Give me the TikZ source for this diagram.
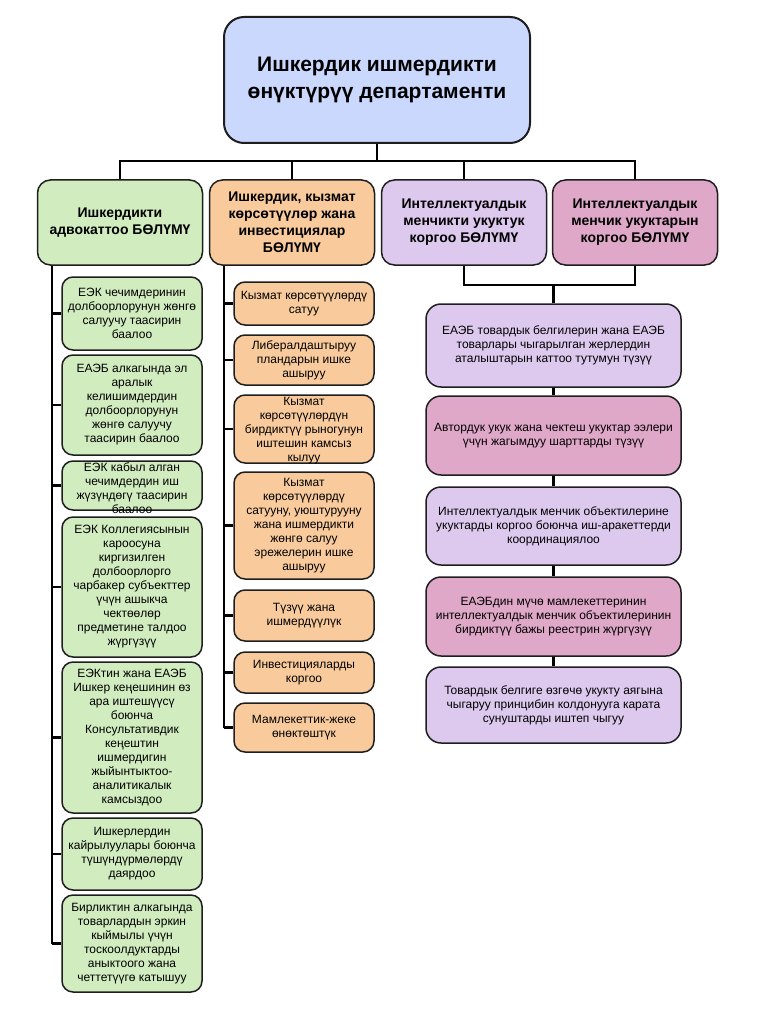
\documentclass[tikz,border=0pt]{standalone}
\usepackage{fontspec}
\setmainfont{Liberation Sans}
\definecolor{boxline}{HTML}{1E1E1E}
\definecolor{titlefill}{HTML}{C9D8FC}
\definecolor{greenfill}{HTML}{D1ECBF}
\definecolor{orangefill}{HTML}{F9CB9C}
\definecolor{lilacfill}{HTML}{DDC9EE}
\definecolor{pinkfill}{HTML}{E0A8C8}
\newcommand{\cutcell}[2]{\parbox[c][#1][t]{136pt}{\centering #2}}
\begin{document}
\begin{tikzpicture}[x=1pt,y=-1pt,
    wire/.style={draw=black, line width=2.2pt},
    cell/.style={draw=boxline, line width=1.5pt, rounded corners=11pt, align=center, inner sep=2pt,
        font=\fontsize{12}{14}\selectfont},
    topbox/.style={cell, fill=titlefill, line width=2pt, rounded corners=20pt,
        minimum width=306pt, minimum height=126pt, font=\bfseries\fontsize{21}{27}\selectfont},
    headbox/.style={cell, minimum width=165pt, minimum height=85pt, rounded corners=13pt,
        font=\bfseries\fontsize{14}{17}\selectfont},
    advbox/.style={cell, fill=greenfill, minimum width=140pt},
    servbox/.style={cell, fill=orangefill, minimum width=140pt},
    ipbox/.style={cell, minimum width=255pt, rounded corners=15pt}]
    \useasboundingbox (0,0) rectangle (758,1027);

    % Department
    \node[topbox] (dept) at (377,80) {Ишкердик ишмердикти\\өнүктүрүү департаменти};

    % Divisions
    \node[headbox, fill=greenfill] (adv) at (120,222.5) {Ишкердикти\\адвокаттоо БӨЛҮМҮ};
    \node[headbox, fill=orangefill] (serv) at (292,222.5) {Ишкердик, кызмат\\көрсөтүүлөр жана\\инвестициялар\\БӨЛҮМҮ};
    \node[headbox, fill=lilacfill] (iplaw) at (464,222.5) {Интеллектуалдык\\менчикти укуктук\\коргоо БӨЛҮМҮ};
    \node[headbox, fill=pinkfill] (ipprot) at (635,222.5) {Интеллектуалдык\\менчик укуктарын\\коргоо БӨЛҮМҮ};

    % Bus under the department
    \coordinate (bus) at (377,161);
    \draw[wire] (dept.south) -- (bus);
    \draw[wire] (adv.north) |- (bus) -| (ipprot.north);
    \draw[wire] (serv.north) -- (serv.north |- bus);
    \draw[wire] (iplaw.north) -- (iplaw.north |- bus);

    % Advocacy tasks
    \node[advbox, minimum height=73pt] (adv1) at (132,313.5) {ЕЭК чечимдеринин\\долбоорлорунун жөнгө\\салуучу таасирин\\баалоо};
    \node[advbox, minimum height=100pt] (adv2) at (132,405) {ЕАЭБ алкагында эл\\аралык\\келишимдердин\\долбоорлорунун\\жөнгө салуучу\\таасирин баалоо};
    \node[advbox] (adv3) at (132,485.5) {\cutcell{45pt}{ЕЭК кабыл алган\\чечимдердин иш\\жүзүндөгү таасирин\\баалоо}};
    \node[advbox, minimum height=140pt] (adv4) at (132,587) {ЕЭК Коллегиясынын\\кароосуна\\киргизилген\\долбоорлорго\\чарбакер субъекттер\\үчүн ашыкча\\чектөөлөр\\предметине талдоо\\жүргүзүү};
    \node[advbox, minimum height=151pt] (adv5) at (132,737.5) {ЕЭКтин жана ЕАЭБ\\Ишкер кеңешинин өз\\ара иштешүүсү\\боюнча\\Консультативдик\\кеңештин\\ишмердигин\\жыйынтыктоо-\\аналитикалык\\камсыздоо};
    \node[advbox, minimum height=72pt] (adv6) at (132,854) {Ишкерлердин\\кайрылуулары боюнча\\түшүндүрмөлөрдү\\даярдоо};
    \node[advbox, minimum height=97pt] (adv7) at (132,943.5) {Бирликтин алкагында\\товарлардын эркин\\кыймылы үчүн\\тоскоолдуктарды\\аныктоого жана\\четтетүүгө катышуу};

    % Advocacy spine
    \coordinate (advspine) at (52,0);
    \draw[wire] (adv.south -| advspine) -- (adv7.west -| advspine);
    \draw[wire] (adv1.west) -- (adv1.west -| advspine);
    \draw[wire] (adv2.west) -- (adv2.west -| advspine);
    \draw[wire] (adv3.west) -- (adv3.west -| advspine);
    \draw[wire] (adv4.west) -- (adv4.west -| advspine);
    \draw[wire] (adv5.west) -- (adv5.west -| advspine);
    \draw[wire] (adv6.west) -- (adv6.west -| advspine);
    \draw[wire] (adv7.west) -- (adv7.west -| advspine);

    % Services and investment tasks
    \node[servbox, minimum height=43pt] (serv1) at (304,303.5) {Кызмат көрсөтүүлөрдү\\сатуу};
    \node[servbox, minimum height=50pt] (serv2) at (304,360) {Либералдаштыруу\\пландарын ишке\\ашыруу};
    \node[servbox] (serv3) at (304,429) {\cutcell{64pt}{Кызмат\\көрсөтүүлөрдүн\\бирдиктүү рыногунун\\иштешин камсыз\\кылуу}};
    \node[servbox, minimum height=107pt] (serv4) at (304,525.5) {Кызмат\\көрсөтүүлөрдү\\сатууну, уюштурууну\\жана ишмердикти\\жөнгө салуу\\эрежелерин ишке\\ашыруу};
    \node[servbox, minimum height=51pt] (serv5) at (304,615.5) {Түзүү жана\\ишмердүүлүк};
    \node[servbox, minimum height=41pt] (serv6) at (304,672.5) {Инвестицияларды\\коргоо};
    \node[servbox, minimum height=49pt] (serv7) at (304,727.5) {Мамлекеттик-жеке\\өнөктөштүк};

    % Services spine
    \coordinate (servspine) at (224,0);
    \draw[wire] (serv.south -| servspine) -- (serv7.west -| servspine);
    \draw[wire] (serv1.west) -- (serv1.west -| servspine);
    \draw[wire] (serv2.west) -- (serv2.west -| servspine);
    \draw[wire] (serv3.west) -- (serv3.west -| servspine);
    \draw[wire] (serv4.west) -- (serv4.west -| servspine);
    \draw[wire] (serv5.west) -- (serv5.west -| servspine);
    \draw[wire] (serv6.west) -- (serv6.west -| servspine);
    \draw[wire] (serv7.west) -- (serv7.west -| servspine);

    % Intellectual property tasks
    \node[ipbox, fill=lilacfill, minimum height=83pt] (ip1) at (553.5,345.5) {ЕАЭБ товардык белгилерин жана ЕАЭБ\\товарлары чыгарылган жерлердин\\аталыштарын каттоо тутумун түзүү};
    \node[ipbox, fill=pinkfill, minimum height=79pt] (ip2) at (553.5,435.5) {Автордук укук жана чектеш укуктар ээлери\\үчүн жагымдуу шарттарды түзүү};
    \node[ipbox, fill=lilacfill, minimum height=78pt] (ip3) at (553.5,526) {Интеллектуалдык менчик объектилерине\\укуктарды коргоо боюнча иш-аракеттерди\\координациялоо};
    \node[ipbox, fill=pinkfill, minimum height=79pt] (ip4) at (553.5,616.5) {ЕАЭБдин мүчө мамлекеттеринин\\интеллектуалдык менчик объектилеринин\\бирдиктүү бажы реестрин жүргүзүү};
    \node[ipbox, fill=lilacfill, minimum height=76pt] (ip5) at (553.5,705) {Товардык белгиге өзгөчө укукту аягына\\чыгаруу принцибин колдонууга карата\\сунуштарды иштеп чыгуу};

    % Joint of the two IP divisions
    \coordinate (ipjoin) at (553.5,285);
    \draw[wire] (iplaw.south) |- (ipjoin) -| (ipprot.south);
    \draw[wire] (ipjoin) -- (ip1.north);
    \draw[wire] (ip1.south) -- (ip2.north);
    \draw[wire] (ip2.south) -- (ip3.north);
    \draw[wire] (ip3.south) -- (ip4.north);
    \draw[wire] (ip4.south) -- (ip5.north);
\end{tikzpicture}
\end{document}
